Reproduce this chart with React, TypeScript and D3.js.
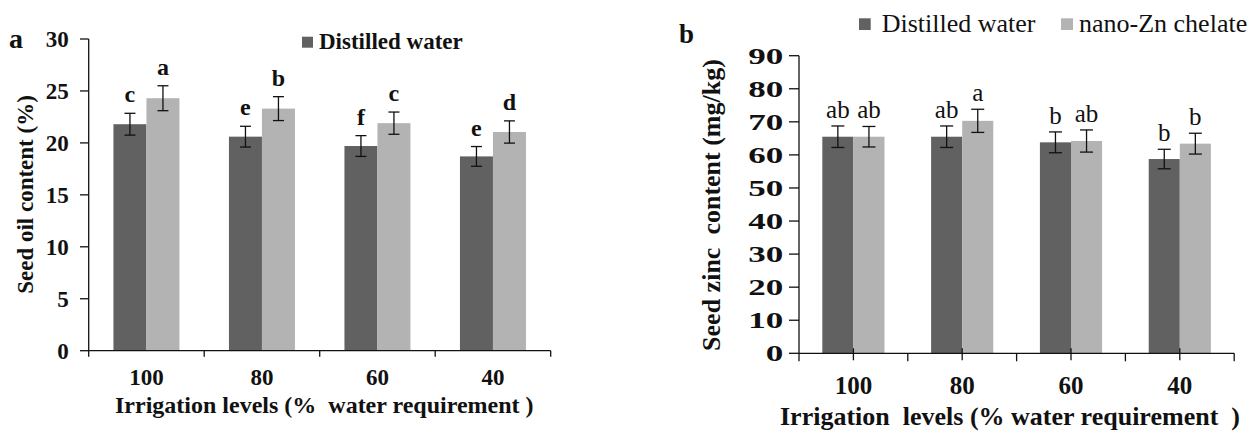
import React from "react";
import * as d3 from "d3";

const categories = ["100", "80", "60", "40"];
const seriesNames = ["Distilled water", "nano-Zn chelate"];

const oilDistilled = [21.8, 20.6, 19.7, 18.7];
const oilNano = [24.3, 23.3, 21.9, 21.05];
const oilDistilledErr = [1.05, 1.0, 1.0, 0.95];
const oilNanoErr = [1.2, 1.15, 1.07, 1.07];
const oilDistilledLetters = ["c", "e", "f", "e"];
const oilNanoLetters = ["a", "b", "c", "d"];
const oilTicks = [0, 5, 10, 15, 20, 25, 30];

const zincDistilled = [65.5, 65.5, 63.8, 58.75];
const zincNano = [65.5, 70.3, 64.2, 63.4];
const zincDistilledErr = [3.25, 3.25, 3.15, 2.95];
const zincNanoErr = [3.1, 3.5, 3.35, 3.15];
const zincDistilledLetters = ["ab", "ab", "b", "b"];
const zincNanoLetters = ["ab", "a", "ab", "b"];
const zincTicks = [0, 10, 20, 30, 40, 50, 60, 70, 80, 90];

const DARK = "#616161";
const LIGHT = "#b3b3b3";
const FONT = "Liberation Serif, Tinos, Times New Roman, DejaVu Serif, serif";

type PanelProps = {
  x0: number; x1: number; y0: number; y1: number; yMax: number;
  ticks: number[];
  values: number[][]; errs: number[][]; letters: string[][];
  letterBold: boolean; letterSize: number; letterGap: number;
  capW: number;
  tickLen: number; tickLabelGap: number; tickFont: number; tickStretch: number | null;
  xLabelY: number; xLabelFont: number;
  centerTicks: boolean; xTickLen: number;
};

function Panel(p: PanelProps) {
  const x = d3.scaleBand<string>().domain(categories).range([p.x0, p.x1]).paddingInner(0).paddingOuter(0);
  const sub = d3.scaleBand<string>().domain(seriesNames).range([0, x.bandwidth()]).paddingInner(0).paddingOuter(0.75);
  const y = d3.scaleLinear().domain([0, p.yMax]).range([p.y0, p.y1]);
  const colors = [DARK, LIGHT];
  const boundaries = [...categories.map((c) => x(c)!), p.x1];
  return (
    <g>
      {categories.map((c, i) =>
        seriesNames.map((s, j) => {
          const v = p.values[j][i];
          const e = p.errs[j][i];
          const bx = x(c)! + sub(s)!;
          const bw = sub.bandwidth();
          const cx = bx + bw / 2;
          return (
            <g key={c + s}>
              <rect x={bx} y={y(v)} width={bw} height={p.y0 - y(v)} fill={colors[j]} />
              <line x1={cx} x2={cx} y1={y(v + e)} y2={y(v - e)} stroke="#111" strokeWidth={1.3} />
              <line x1={cx - p.capW / 2} x2={cx + p.capW / 2} y1={y(v + e)} y2={y(v + e)} stroke="#111" strokeWidth={1.3} />
              <line x1={cx - p.capW / 2} x2={cx + p.capW / 2} y1={y(v - e)} y2={y(v - e)} stroke="#111" strokeWidth={1.3} />
              <text x={cx} y={y(v + e) - p.letterGap} textAnchor="middle" fontFamily={FONT}
                fontSize={p.letterSize} fontWeight={p.letterBold ? "bold" : "normal"} fill="#111">
                {p.letters[j][i]}
              </text>
            </g>
          );
        })
      )}
      <line x1={p.x0} x2={p.x0} y1={p.y0} y2={y(p.yMax)} stroke="#111" strokeWidth={1.3} />
      {p.ticks.map((t) => (
        <g key={t}>
          <line x1={p.x0 - p.tickLen} x2={p.x0} y1={y(t)} y2={y(t)} stroke="#111" strokeWidth={1.3} />
          <text x={p.x0 - p.tickLabelGap} y={y(t)} dy="0.34em" textAnchor="end" fontFamily={FONT}
            fontSize={p.tickFont} fontWeight="bold" fill="#111"
            {...(p.tickStretch ? { textLength: p.tickStretch * String(t).length, lengthAdjust: "spacingAndGlyphs" } : {})}>
            {t}
          </text>
        </g>
      ))}
      <line x1={p.x0} x2={p.x1} y1={p.y0} y2={p.y0} stroke="#111" strokeWidth={1.3} />
      {boundaries.map((b, i) => (
        <line key={"b" + i} x1={b} x2={b} y1={p.y0} y2={p.y0 + p.xTickLen} stroke="#111" strokeWidth={1.3} />
      ))}
      {p.centerTicks && categories.map((c) => {
        const cx = x(c)! + x.bandwidth() / 2;
        return <line key={"c" + c} x1={cx} x2={cx} y1={p.y0 - 5} y2={p.y0 + p.xTickLen - 1} stroke="#111" strokeWidth={1.3} />;
      })}
      {categories.map((c) => (
        <text key={"l" + c} x={x(c)! + x.bandwidth() / 2} y={p.xLabelY} textAnchor="middle" fontFamily={FONT}
          fontSize={p.xLabelFont} fontWeight="bold" fill="#111">
          {c}
        </text>
      ))}
    </g>
  );
}

export default function App() {
  return (
    <svg width={1257} height={432} style={{ position: "absolute", left: 0, top: 0, background: "#fff" }}>
      <rect x={0} y={0} width={1257} height={432} fill="#fff" />
      <text x={9} y={48} fontFamily={FONT} fontSize={28} fontWeight="bold" fill="#111">a</text>
      <rect x={302} y={36.7} width={11} height={11} fill={DARK} />
      <text x={319} y={49} fontFamily={FONT} fontSize={23} fontWeight="bold" fill="#111">{seriesNames[0]}</text>
      <text transform="translate(33,194.5) rotate(-90)" textAnchor="middle" fontFamily={FONT} fontSize={23}
        fontWeight="bold" fill="#111">Seed oil content (%)</text>
      <text x={115} y={413} fontFamily={FONT} fontSize={24} fontWeight="bold" fill="#111" xmlSpace="preserve">
        Irrigation levels (%  water requirement )
      </text>
      <Panel x0={88.7} x1={550.7} y0={350.7} y1={39} yMax={30} ticks={oilTicks}
        values={[oilDistilled, oilNano]} errs={[oilDistilledErr, oilNanoErr]}
        letters={[oilDistilledLetters, oilNanoLetters]} letterBold={true} letterSize={24} letterGap={11}
        capW={11} tickLen={8.7} tickLabelGap={20} tickFont={23} tickStretch={null}
        xLabelY={385} xLabelFont={23} centerTicks={false} xTickLen={6} />

      <text x={679} y={43} fontFamily={FONT} fontSize={27} fontWeight="bold" fill="#111">b</text>
      <rect x={859} y={18.3} width={11.7} height={11.7} fill={DARK} />
      <text x={881.7} y={31.7} fontFamily={FONT} fontSize={26} fill="#111">{seriesNames[0]}</text>
      <rect x={1061} y={18.3} width={12} height={11.7} fill={LIGHT} />
      <text x={1079} y={31.7} fontFamily={FONT} fontSize={26} fill="#111">{seriesNames[1]}</text>
      <text transform="translate(720,205) rotate(-90)" textAnchor="middle" fontFamily={FONT} fontSize={26}
        fontWeight="bold" fill="#111" xmlSpace="preserve">Seed zinc  content (mg/kg)</text>
      <text x={780} y={425} fontFamily={FONT} fontSize={26} fontWeight="bold" fill="#111" xmlSpace="preserve">
        Irrigation  levels (% water requirement  )
      </text>
      <Panel x0={799} x1={1234.2} y0={353.3} y1={55.7} yMax={90} ticks={zincTicks}
        values={[zincDistilled, zincNano]} errs={[zincDistilledErr, zincNanoErr]}
        letters={[zincDistilledLetters, zincNanoLetters]} letterBold={false} letterSize={25} letterGap={8}
        capW={13} tickLen={10} tickLabelGap={15.7} tickFont={24} tickStretch={17.5}
        xLabelY={394} xLabelFont={25} centerTicks={true} xTickLen={8} />
    </svg>
  );
}
